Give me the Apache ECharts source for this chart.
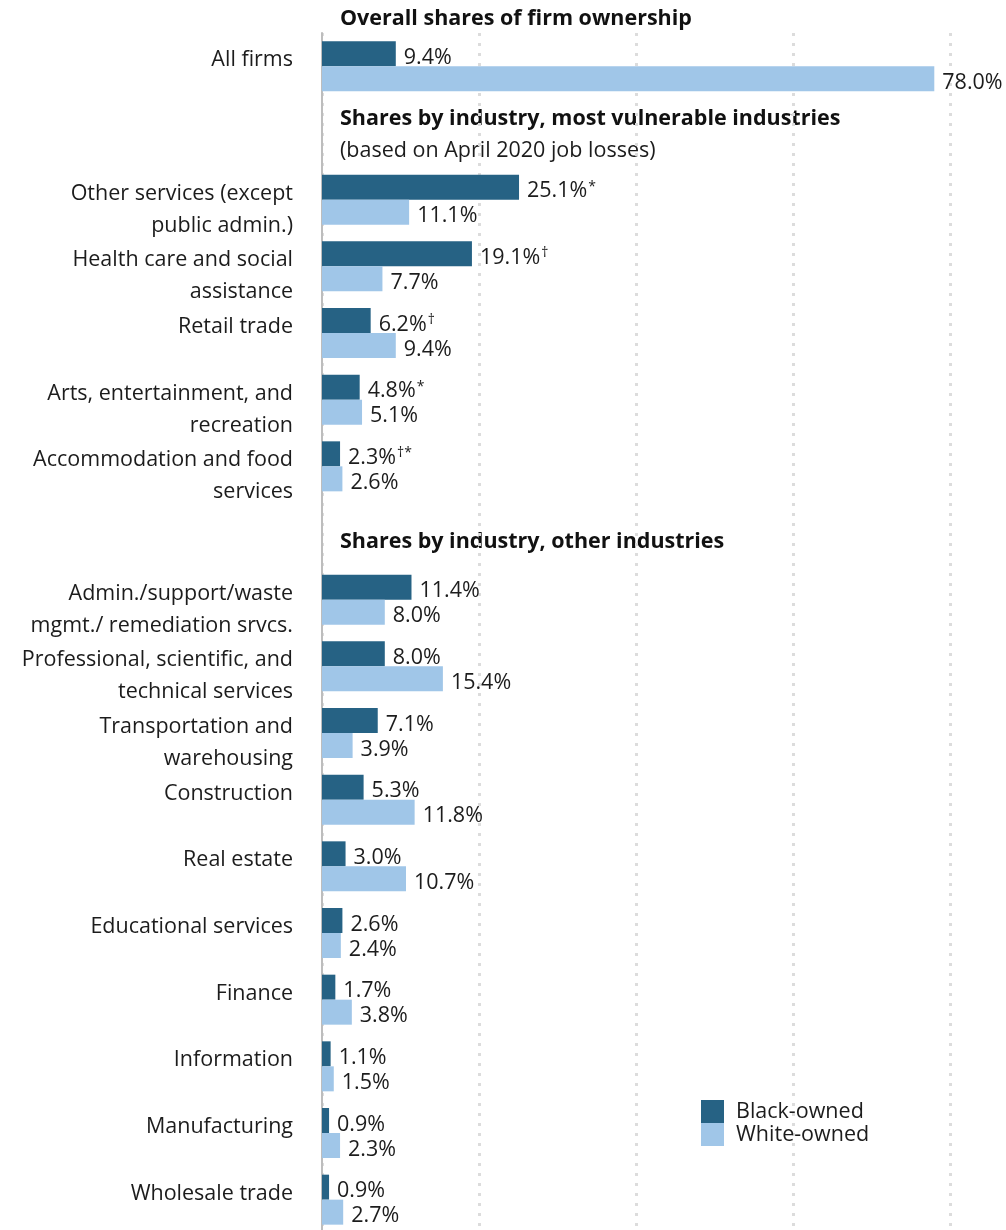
<!DOCTYPE html>
<html>
<head>
<meta charset="utf-8">
<title>Firm ownership shares by industry</title>
<script src="https://cdn.jsdelivr.net/npm/echarts@6/dist/echarts.min.js"></script>
<style>
  html, body { margin: 0; padding: 0; background: #ffffff; }
  #chart { width: 1006px; height: 1230px; }
</style>
</head>
<body>
<div id="chart"></div>
<script>
// Rows from top to bottom; empty strings are spacer rows under the section headings.
const categories = [
  'All firms',
  '',
  'Other services (except\npublic admin.)',
  'Health care and social\nassistance',
  'Retail trade',
  'Arts, entertainment, and\nrecreation',
  'Accommodation and food\nservices',
  '',
  'Admin./support/waste\nmgmt./ remediation srvcs.',
  'Professional, scientific, and\ntechnical services',
  'Transportation and\nwarehousing',
  'Construction',
  'Real estate',
  'Educational services',
  'Finance',
  'Information',
  'Manufacturing',
  'Wholesale trade'
];

// Share of firms (%), '-' marks spacer rows
const blackOwned = [9.4, '-', 25.1, 19.1, 6.2, 4.8, 2.3, '-', 11.4, 8.0, 7.1, 5.3, 3.0, 2.6, 1.7, 1.1, 0.9, 0.9];
const whiteOwned = [78.0, '-', 11.1, 7.7, 9.4, 5.1, 2.6, '-', 8.0, 15.4, 3.9, 11.8, 10.7, 2.4, 3.8, 1.5, 2.3, 2.7];

// Significance marks attached to the Black-owned values
const blackNotes = ['', '', '*', '\u2020', '\u2020', '*', '\u2020*', '', '', '', '', '', '', '', '', '', '', ''];

const seriesNames = ['Black-owned', 'White-owned'];
const xTicks = [0, 20, 40, 60, 80];

const headings = [
  { text: 'Overall shares of firm ownership', y: 19, bold: true },
  { text: 'Shares by industry, most vulnerable industries', y: 119, bold: true },
  { text: '(based on April 2020 job losses)', y: 151, bold: false },
  { text: 'Shares by industry, other industries', y: 542, bold: true }
];

const FONT = 'Open Sans';
const SIZE = 21.5;
const DARK = '#266284';
const LIGHT = '#a0c6e8';
const TEXT = '#1c1c1c';

const chart = echarts.init(document.getElementById('chart'), null, { renderer: 'canvas' });

function valueLabel(notes) {
  return {
    show: true,
    position: 'right',
    distance: 8,
    offset: [0, 4],
    fontFamily: FONT,
    fontSize: SIZE,
    color: TEXT,
    formatter: function (p) {
      const v = Number(p.value).toFixed(1) + '%';
      const n = notes ? notes[p.dataIndex] : '';
      return n ? v + '{sup|' + n + '}' : v;
    },
    rich: {
      sup: { fontFamily: FONT, fontSize: 14, color: TEXT, padding: [0, 0, 9, 1] }
    }
  };
}

// Category labels hang from the row: a short spacer line on top, then up to two text lines.
function categoryLabel(value) {
  const lines = value.split('\n');
  if (lines.length < 2) lines.push(' ');
  return '{gap| }\n' + lines.map(l => '{row|' + l + '}').join('\n');
}

chart.setOption({
  animation: false,
  backgroundColor: '#ffffff',
  textStyle: { fontFamily: FONT },
  grid: {
    left: 322, right: 56, top: 33, height: 1200,
    containLabel: false,
    outerBoundsMode: 'none'
  },
  xAxis: {
    type: 'value',
    min: xTicks[0],
    max: xTicks[xTicks.length - 1],
    interval: 20,
    axisLabel: { show: false },
    axisLine: { show: false },
    axisTick: { show: false },
    splitLine: {
      show: true,
      lineStyle: { color: '#dcdcdc', width: 3, type: [3, 7] }
    }
  },
  yAxis: {
    type: 'category',
    inverse: true,
    data: categories,
    axisTick: { show: false },
    axisLine: { show: true, lineStyle: { color: '#bdbdbd', width: 2 } },
    axisLabel: {
      interval: 0,
      margin: 29,
      formatter: function (v) { return v ? categoryLabel(v) : ''; },
      rich: {
        gap: { fontFamily: FONT, fontSize: 10, lineHeight: 20 },
        row: { fontFamily: FONT, fontSize: SIZE, lineHeight: 32, color: TEXT, align: 'right' }
      }
    }
  },
  legend: {
    orient: 'vertical',
    left: 701,
    top: 1100,
    padding: 0,
    itemGap: 0,
    itemWidth: 23,
    itemHeight: 23,
    icon: 'rect',
    selectedMode: false,
    textStyle: { fontFamily: FONT, fontSize: SIZE, color: TEXT, lineHeight: 18, padding: [5, 0, 0, 7] },
    data: seriesNames
  },
  series: [
    {
      name: seriesNames[0],
      type: 'bar',
      data: blackOwned,
      barWidth: 25,
      barGap: '0%',
      itemStyle: { color: DARK },
      label: valueLabel(blackNotes)
    },
    {
      name: seriesNames[1],
      type: 'bar',
      data: whiteOwned,
      barWidth: 25,
      barGap: '0%',
      itemStyle: { color: LIGHT },
      label: valueLabel(null)
    }
  ],
  graphic: headings.map(h => ({
    type: 'text',
    left: 340,
    top: h.y - 14,
    style: {
      text: h.text,
      fontFamily: FONT,
      fontSize: SIZE,
      fontWeight: h.bold ? 'bold' : 'normal',
      fill: h.bold ? '#111111' : TEXT,
      lineHeight: 28
    }
  }))
});
</script>
</body>
</html>
